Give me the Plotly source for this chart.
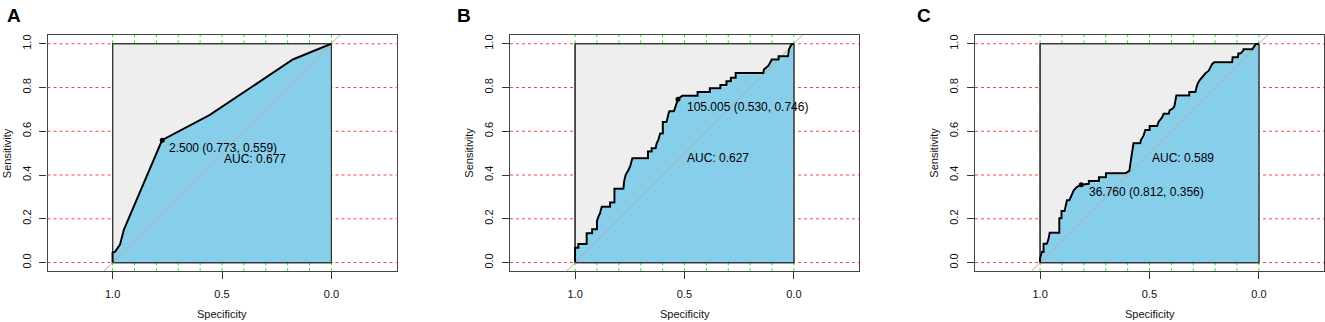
import plotly.graph_objects as go

# ---------------- data ----------------
panel_letters = ["A", "B", "C"]

spec_a = [1.000, 1.000, 0.988, 0.966, 0.948, 0.774, 0.557, 0.310, 0.176, 0.000]
sens_a = [0.000, 0.045, 0.050, 0.082, 0.151, 0.559, 0.674, 0.838, 0.928, 1.000]

spec_b = [1.000, 1.000, 0.985, 0.985, 0.947, 0.947, 0.922, 0.922, 0.900, 0.900, 0.893, 0.886,
          0.878, 0.840, 0.840, 0.820, 0.820, 0.779, 0.776, 0.769, 0.756, 0.748, 0.738, 0.667,
          0.667, 0.650, 0.650, 0.632, 0.627, 0.619, 0.611, 0.599, 0.599, 0.582, 0.573, 0.569,
          0.548, 0.540, 0.530, 0.520, 0.510, 0.440, 0.440, 0.384, 0.384, 0.336, 0.336, 0.308,
          0.308, 0.288, 0.288, 0.266, 0.266, 0.140, 0.137, 0.116, 0.108, 0.101, 0.070, 0.070,
          0.027, 0.022, 0.012, 0.000]
sens_b = [0.000, 0.068, 0.068, 0.085, 0.085, 0.134, 0.134, 0.152, 0.152, 0.190, 0.210, 0.226,
          0.255, 0.255, 0.274, 0.274, 0.337, 0.337, 0.370, 0.400, 0.423, 0.441, 0.477, 0.477,
          0.507, 0.507, 0.522, 0.522, 0.545, 0.562, 0.590, 0.590, 0.642, 0.642, 0.680, 0.692,
          0.692, 0.715, 0.746, 0.755, 0.762, 0.762, 0.780, 0.780, 0.797, 0.797, 0.812, 0.812,
          0.829, 0.829, 0.845, 0.845, 0.866, 0.866, 0.882, 0.900, 0.918, 0.928, 0.928, 0.943,
          0.943, 0.975, 0.996, 1.000]

spec_c = [1.000, 1.000, 0.992, 0.984, 0.984, 0.969, 0.962, 0.956, 0.912, 0.912, 0.902, 0.902,
          0.888, 0.883, 0.877, 0.866, 0.858, 0.846, 0.832, 0.812, 0.777, 0.777, 0.731, 0.731,
          0.699, 0.699, 0.610, 0.592, 0.588, 0.580, 0.573, 0.542, 0.539, 0.527, 0.519, 0.499,
          0.499, 0.465, 0.458, 0.443, 0.435, 0.412, 0.408, 0.392, 0.386, 0.377, 0.318, 0.318,
          0.290, 0.285, 0.279, 0.270, 0.260, 0.244, 0.229, 0.221, 0.214, 0.204, 0.122, 0.120,
          0.096, 0.094, 0.084, 0.072, 0.070, 0.030, 0.015, 0.000]
sens_c = [0.000, 0.020, 0.048, 0.048, 0.086, 0.086, 0.105, 0.136, 0.136, 0.202, 0.202, 0.236,
          0.236, 0.260, 0.285, 0.285, 0.305, 0.330, 0.345, 0.356, 0.360, 0.373, 0.373, 0.390,
          0.390, 0.408, 0.408, 0.419, 0.446, 0.505, 0.545, 0.545, 0.560, 0.580, 0.606, 0.606,
          0.624, 0.624, 0.644, 0.662, 0.680, 0.680, 0.695, 0.705, 0.715, 0.764, 0.764, 0.779,
          0.779, 0.801, 0.819, 0.834, 0.846, 0.865, 0.877, 0.898, 0.907, 0.915, 0.915, 0.938,
          0.938, 0.955, 0.955, 0.968, 0.975, 0.975, 0.998, 1.000]

thresholds = [2.500, 105.005, 36.760]
thr_spec = [0.773, 0.530, 0.812]
thr_sens = [0.559, 0.746, 0.356]
auc_values = [0.677, 0.627, 0.589]

# label anchor positions (specificity, sensitivity)
thr_label_pos = [(0.753, 0.524), (0.500, 0.711), (0.786, 0.321)]
auc_label_pos = [(0.498, 0.474), (0.497, 0.477), (0.499, 0.477)]

x_ticks = [1.0, 0.5, 0.0]
x_ticktext = ["1.0", "0.5", "0.0"]
y_ticks = [0.0, 0.2, 0.4, 0.6, 0.8, 1.0]
y_ticktext = ["0.0", "0.2", "0.4", "0.6", "0.8", "1.0"]
green_grid = [0.0, 0.1, 0.2, 0.3, 0.4, 0.5, 0.6, 0.7, 0.8, 0.9, 1.0]
red_grid = [0.0, 0.2, 0.4, 0.6, 0.8, 1.0]

specs = [spec_a, spec_b, spec_c]
senss = [sens_a, sens_b, sens_c]

# ---------------- layout geometry ----------------
W, H = 1325, 322
FONT = "Liberation Sans, Arial, sans-serif"
frame_left = [47.5, 510.0, 975.0]
FW = 349.0
TOP, BOTTOM = 35.0, 271.3
letter_x = [14, 464, 924]
RED = "#FF4040"
GREEN = "#22EE22"

fig = go.Figure()
layout = dict(
    width=W, height=H, margin=dict(l=0, r=0, t=0, b=0),
    paper_bgcolor="white", plot_bgcolor="white", showlegend=False,
    font=dict(family=FONT, size=11, color="#111"),
)
annotations = []
shapes = []

for i in range(3):
    s = "" if i == 0 else str(i + 1)
    xa, ya = "x" + s, "y" + s
    spec, sens = specs[i], senss[i]

    # grid lines (drawn beneath traces)
    for gv in red_grid:
        shapes.append(dict(type="line", xref=xa + " domain", yref=ya, x0=0, x1=1,
                           y0=gv, y1=gv, layer="below",
                           line=dict(color=RED, width=1, dash="dot")))
    for gv in green_grid:
        shapes.append(dict(type="line", xref=xa, yref=ya + " domain", x0=gv, x1=gv,
                           y0=0, y1=1, layer="below",
                           line=dict(color=GREEN, width=1, dash="dot")))

    # max AUC square (grey)
    fig.add_trace(go.Scatter(x=[1, 1, 0, 0, 1], y=[0, 1, 1, 0, 0], mode="lines",
                             fill="toself", fillcolor="#EEEEEE",
                             line=dict(color="#333333", width=1.2),
                             xaxis=xa, yaxis=ya, hoverinfo="skip"))
    # AUC polygon (skyblue)
    fig.add_trace(go.Scatter(x=spec, y=sens, mode="lines", fill="tozeroy",
                             fillcolor="#87CEEB", line=dict(color="#CDEFFA", width=2.5),
                             xaxis=xa, yaxis=ya, hoverinfo="skip"))
    # square outline on top
    fig.add_trace(go.Scatter(x=[1, 1, 0, 0, 1], y=[0, 1, 1, 0, 0], mode="lines",
                             line=dict(color="#333333", width=1.2),
                             xaxis=xa, yaxis=ya, hoverinfo="skip"))
    # identity line
    fig.add_trace(go.Scatter(x=[1.4, -0.4], y=[-0.4, 1.4], mode="lines",
                             line=dict(color="#B9A89F", width=1),
                             xaxis=xa, yaxis=ya, hoverinfo="skip"))
    # ROC curve
    fig.add_trace(go.Scatter(x=spec, y=sens, mode="lines",
                             line=dict(color="black", width=2),
                             xaxis=xa, yaxis=ya))
    # threshold point
    fig.add_trace(go.Scatter(x=[thr_spec[i]], y=[thr_sens[i]], mode="markers",
                             marker=dict(color="black", size=5),
                             xaxis=xa, yaxis=ya))

    x0 = frame_left[i]
    layout["xaxis" + s] = dict(
        domain=[x0 / W, (x0 + FW) / W], range=[1.2975, -0.2975], anchor=ya,
        tickvals=x_ticks, ticktext=x_ticktext, ticks="outside", ticklen=7,
        tickwidth=1, tickcolor="#333333", ticklabelstandoff=5,
        tickfont=dict(family=FONT, size=11, color="#111"),
        showline=True, mirror=True, linecolor="#444444", linewidth=1.3,
        showgrid=False, zeroline=False, fixedrange=True,
    )
    layout["yaxis" + s] = dict(
        domain=[1 - BOTTOM / H, 1 - TOP / H], range=[-0.04, 1.04], anchor=xa,
        tickvals=y_ticks, ticktext=y_ticktext, tickangle=-90, ticks="outside",
        ticklen=7, tickwidth=1, tickcolor="#333333", ticklabelstandoff=4,
        tickfont=dict(family=FONT, size=11, color="#111"),
        showline=True, mirror=True, linecolor="#444444", linewidth=1.3,
        showgrid=False, zeroline=False, fixedrange=True,
    )

    # threshold & AUC labels
    tx, ty = thr_label_pos[i]
    annotations.append(dict(
        x=tx, y=ty, xref=xa, yref=ya, xanchor="left", yanchor="middle",
        text=f"{thresholds[i]:.3f} ({thr_spec[i]:.3f}, {thr_sens[i]:.3f})",
        showarrow=False, font=dict(family=FONT, size=12, color="black")))
    ax_, ay_ = auc_label_pos[i]
    annotations.append(dict(
        x=ax_, y=ay_, xref=xa, yref=ya, xanchor="left", yanchor="middle",
        text=f"AUC: {auc_values[i]:.3f}", showarrow=False,
        font=dict(family=FONT, size=12, color="black")))
    # axis titles
    annotations.append(dict(
        x=0.5, y=1 - 314.0 / H, xref=xa, yref="paper", xanchor="center",
        yanchor="middle", text="Specificity", showarrow=False,
        font=dict(family=FONT, size=11, color="#111")))
    annotations.append(dict(
        x=(x0 - 40.5) / W, y=0.5, xref="paper", yref=ya, xanchor="center",
        yanchor="middle", text="Sensitivity", textangle=-90, showarrow=False,
        font=dict(family=FONT, size=11, color="#111")))
    # panel letter
    annotations.append(dict(
        x=letter_x[i] / W, y=1 - 16.0 / H, xref="paper", yref="paper",
        xanchor="center", yanchor="middle", text=f"<b>{panel_letters[i]}</b>",
        showarrow=False, font=dict(family=FONT, size=19, color="black")))

layout["annotations"] = annotations
layout["shapes"] = shapes
fig.update_layout(**layout)
fig.write_html("out.html", config={"displayModeBar": False},
               post_script="document.body.style.margin='0';document.body.style.overflow='hidden';")
